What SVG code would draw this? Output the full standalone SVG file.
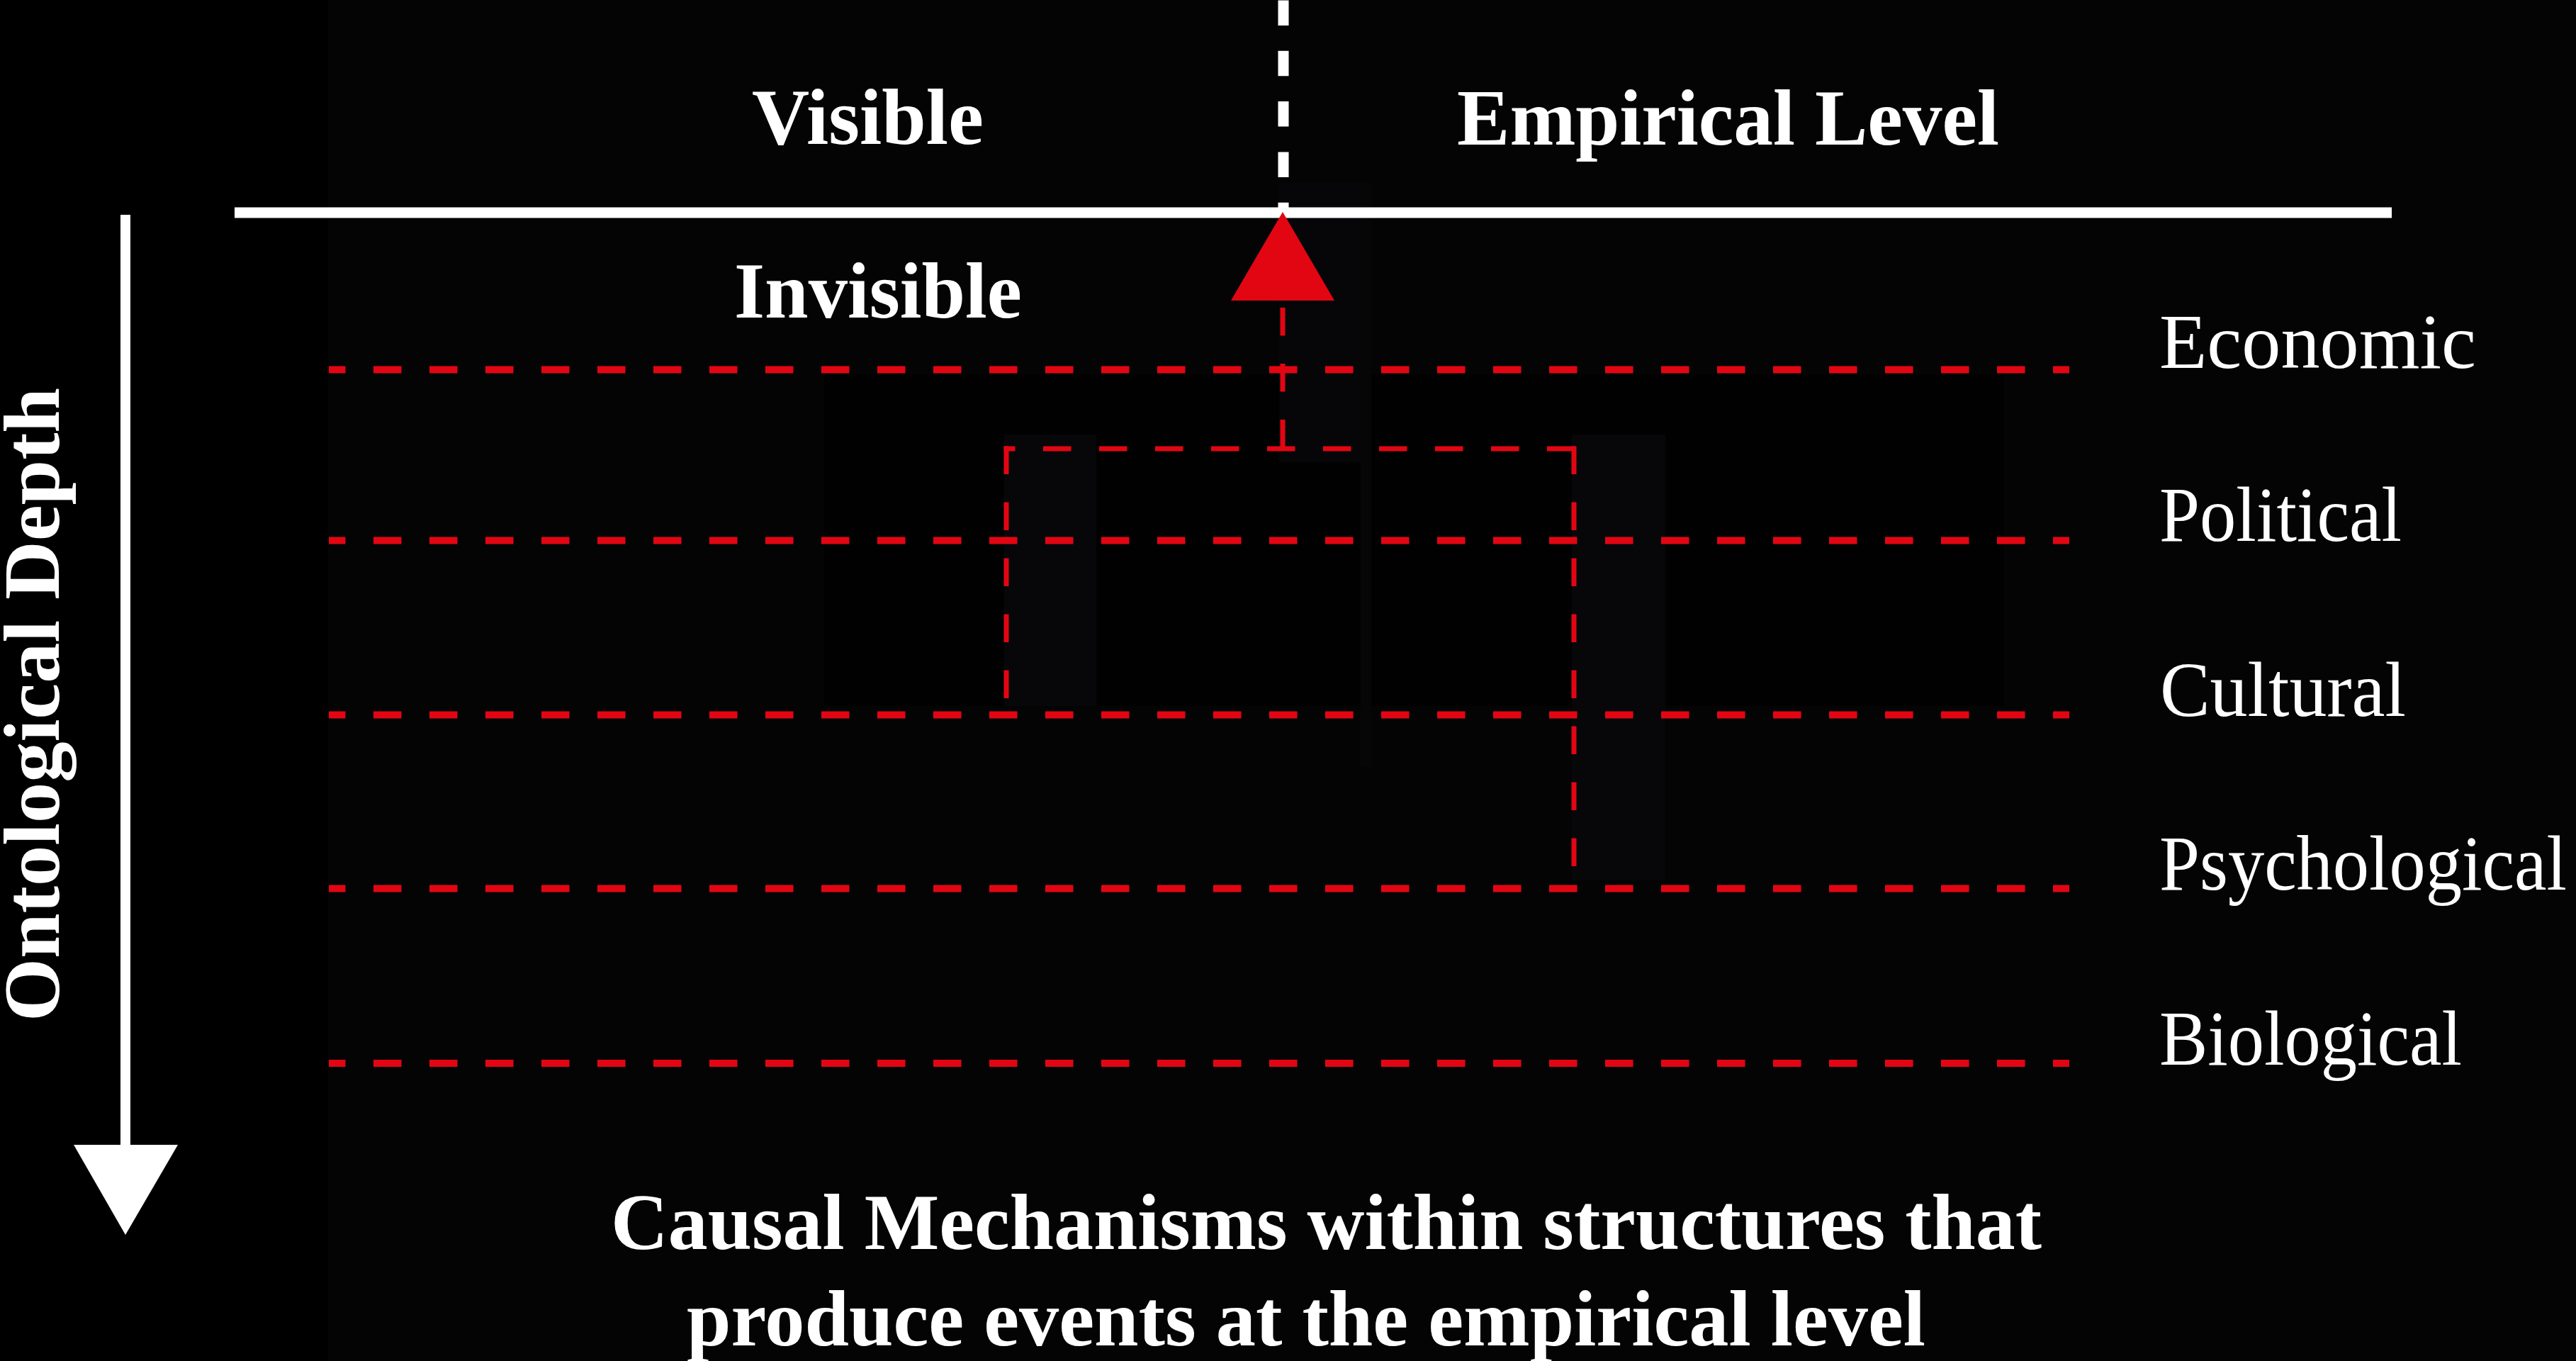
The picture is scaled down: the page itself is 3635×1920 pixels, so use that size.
<svg xmlns="http://www.w3.org/2000/svg" width="3635" height="1920" viewBox="0 0 3635 1920">
<style>
.bold{font-family:"Liberation Serif","Times New Roman",serif;font-weight:bold;fill:#ffffff;font-size:113px}
.lab{font-family:"Liberation Serif","Times New Roman",serif;font-weight:normal;fill:#ffffff;font-size:110px}
.layer{stroke:#e20613;stroke-width:10;fill:none;stroke-dasharray:39.5 39.5;stroke-dashoffset:16}
.box{stroke:#e20613;stroke-width:7;fill:none;stroke-dasharray:39.5 39.5}
</style>
<rect x="0" y="0" width="3635" height="1920" fill="#000000"/>
<g id="background">
<rect x="463" y="0" width="3172" height="1920" fill="#040404"/>
<rect x="1163" y="528" width="1665" height="468" fill="#010101"/>
<rect x="1417" y="613" width="130" height="383" fill="#07070a"/>
<rect x="2218" y="613" width="132" height="629" fill="#07070a"/>
<rect x="1805" y="258" width="115" height="394" fill="#060608"/>
<rect x="1920" y="258" width="15" height="824" fill="#060607"/>
</g>
<g id="axis">
<line x1="331" y1="300" x2="3375" y2="300" stroke="#ffffff" stroke-width="15"/>
<line x1="1811" y1="0.5" x2="1811" y2="300" stroke="#ffffff" stroke-width="15" stroke-dasharray="35.5 35.8"/>
</g>
<g id="depth-arrow">
<line x1="177" y1="303" x2="177" y2="1617" stroke="#ffffff" stroke-width="14"/>
<polygon points="104,1615 251,1615 177,1742" fill="#ffffff"/>
<text class="bold" transform="translate(83,1441) rotate(-90)" x="0" y="0" textLength="894" lengthAdjust="spacingAndGlyphs">Ontological Depth</text>
</g>
<g id="labels-top">
<text class="bold" x="1061" y="203" textLength="327" lengthAdjust="spacingAndGlyphs">Visible</text>
<text class="bold" x="2056" y="204" textLength="765" lengthAdjust="spacingAndGlyphs">Empirical Level</text>
<text class="bold" x="1036" y="448" textLength="406" lengthAdjust="spacingAndGlyphs">Invisible</text>
</g>
<g id="layers">
<g id="economic"><line class="layer" x1="464" y1="521.5" x2="2920" y2="521.5"/><text class="lab" x="3047" y="519" textLength="447" lengthAdjust="spacingAndGlyphs">Economic</text></g>
<g id="political"><line class="layer" x1="464" y1="762.5" x2="2920" y2="762.5"/><text class="lab" x="3047" y="763" textLength="342" lengthAdjust="spacingAndGlyphs">Political</text></g>
<g id="cultural"><line class="layer" x1="464" y1="1008.5" x2="2920" y2="1008.5"/><text class="lab" x="3048" y="1010" textLength="347" lengthAdjust="spacingAndGlyphs">Cultural</text></g>
<g id="psychological"><line class="layer" x1="464" y1="1253.5" x2="2920" y2="1253.5"/><text class="lab" x="3047" y="1255" textLength="575" lengthAdjust="spacingAndGlyphs">Psychological</text></g>
<g id="biological"><line class="layer" x1="464" y1="1500" x2="2920" y2="1500"/><text class="lab" x="3047" y="1502" textLength="427" lengthAdjust="spacingAndGlyphs">Biological</text></g>
</g>
<g id="connectors">
<line class="box" x1="1420" y1="629.5" x2="1420" y2="986"/>
<line class="box" x1="2221" y1="629.5" x2="2221" y2="1223"/>
<line class="box" x1="1416.5" y1="633" x2="2224.5" y2="633" style="stroke-dashoffset:23.5"/>
<line class="box" x1="1810" y1="434" x2="1810" y2="633"/>
<polygon points="1810,299 1737,424 1883,424" fill="#e20613"/>
</g>
<g id="caption">
<text class="bold" x="862" y="1762" textLength="2019" lengthAdjust="spacingAndGlyphs">Causal Mechanisms within structures that</text>
<text class="bold" x="969" y="1898" textLength="1748" lengthAdjust="spacingAndGlyphs">produce events at the empirical level</text>
</g>
</svg>
